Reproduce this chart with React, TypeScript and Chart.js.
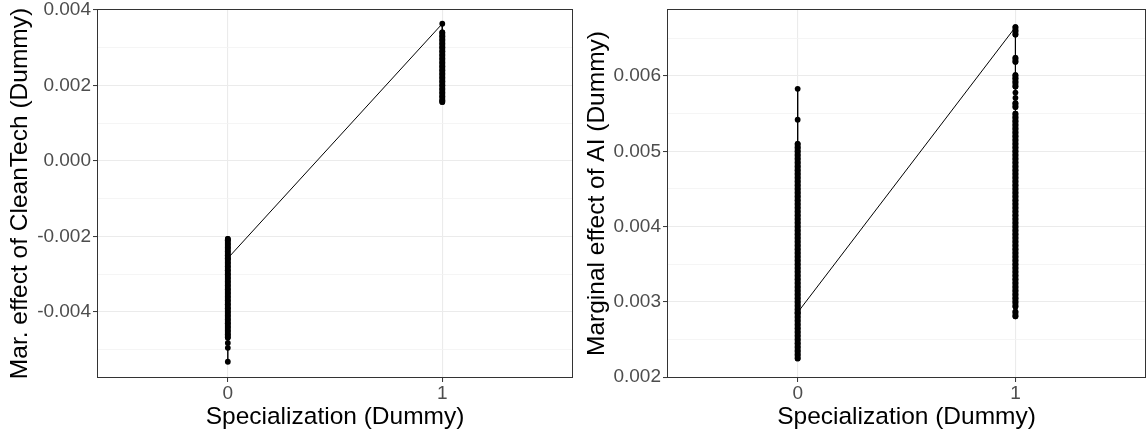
import React, { useEffect, useRef } from "react";
import { Chart, registerables } from "chart.js";
Chart.register(...registerables);

// ---- data ----
const xCategories = [0, 1];
const xTickLabels = ["0", "1"];
const xTitle = "Specialization (Dummy)";

// Left panel: marginal effect of CleanTech at Specialization = 0 / 1 (data order kept)
const cleanTechAt0 = [
  -0.00207, -0.0021, -0.0022, -0.0023, -0.0024, -0.0025, -0.0026, -0.0027, -0.0028, -0.0029,
  -0.003, -0.0031, -0.0032, -0.0033, -0.0034, -0.0035, -0.0036, -0.0037, -0.0038, -0.0039,
  -0.004, -0.0041, -0.0042, -0.0043, -0.0044, -0.0045, -0.0046, -0.00468, -0.00482, -0.00495,
  -0.00532, -0.00258,
];
const cleanTechAt1 = [
  0.00363, 0.0034, 0.0033, 0.0032, 0.0031, 0.003, 0.0029, 0.0028, 0.0027, 0.0026, 0.0025,
  0.0024, 0.0023, 0.0022, 0.0021, 0.002, 0.0019, 0.0018, 0.0017, 0.0016, 0.00156,
];
const cleanTechTitle = "Mar. effect of CleanTech (Dummy)";
const cleanTechMajorTicks = [-0.004, -0.002, 0, 0.002, 0.004];
const cleanTechTickLabels = ["-0.004", "-0.002", "0.000", "0.002", "0.004"];
const cleanTechMinorTicks = [-0.005, -0.003, -0.001, 0.001, 0.003];

// Right panel: marginal effect of AI at Specialization = 0 / 1 (data order kept)
const aiAt0 = [
  0.00583, 0.00542,
  0.0051, 0.00505, 0.005, 0.00495, 0.0049, 0.00485, 0.0048, 0.00475, 0.0047, 0.00465,
  0.0046, 0.00455, 0.0045, 0.00445, 0.0044, 0.00435, 0.0043, 0.00425, 0.0042, 0.00415,
  0.0041, 0.00405, 0.004, 0.00395, 0.0039, 0.00385, 0.0038, 0.00375, 0.0037, 0.00365,
  0.0036, 0.00355, 0.0035, 0.00345, 0.0034, 0.00335, 0.0033, 0.00325, 0.0032, 0.00315,
  0.0031, 0.00305, 0.003, 0.00295, 0.0029, 0.00285, 0.0028, 0.00275, 0.0027, 0.00265,
  0.0026, 0.00255, 0.0025, 0.00245, 0.0024, 0.00235, 0.0023, 0.00225,
  0.00286,
];
const aiAt1 = [
  0.00665, 0.0066, 0.00655, 0.00624, 0.00619, 0.00601, 0.00597, 0.00592, 0.00586, 0.00578,
  0.00571, 0.00564, 0.00559,
  0.0055, 0.00545, 0.0054, 0.00535, 0.0053, 0.00525, 0.0052, 0.00515, 0.0051, 0.00505,
  0.005, 0.00495, 0.0049, 0.00485, 0.0048, 0.00475, 0.0047, 0.00465, 0.0046, 0.00455,
  0.0045, 0.00445, 0.0044, 0.00435, 0.0043, 0.00425, 0.0042, 0.00415, 0.0041, 0.00405,
  0.004, 0.00395, 0.0039, 0.00385, 0.0038, 0.00375, 0.0037, 0.00365, 0.0036, 0.00355,
  0.0035, 0.00345, 0.0034, 0.00335, 0.0033, 0.00325, 0.0032, 0.00315, 0.0031, 0.00305,
  0.003, 0.00294, 0.00287, 0.00281,
];
const aiTitle = "Marginal effect of AI (Dummy)";
const aiMajorTicks = [0.002, 0.003, 0.004, 0.005, 0.006];
const aiTickLabels = ["0.002", "0.003", "0.004", "0.005", "0.006"];
const aiMinorTicks = [0.0025, 0.0035, 0.0045, 0.0055, 0.0065];

// ---- styling ----
const FONT = "'Liberation Sans', Arial, Helvetica, sans-serif";
const TICK_SIZE = 19;
const TITLE_SIZE = 24.5;
const POINT_R = 2.9;

const panelBorder = {
  id: "panelBorder",
  afterDraw(chart: any) {
    const { ctx, chartArea } = chart;
    const l = Math.round(chartArea.left) + 0.5;
    const t = Math.round(chartArea.top) + 0.5;
    const r = Math.round(chartArea.right) - 0.5;
    const b = Math.round(chartArea.bottom) - 0.5;
    ctx.save();
    ctx.strokeStyle = "#333333";
    ctx.lineWidth = 1;
    ctx.strokeRect(l, t, r - l, b - t);
    ctx.restore();
  },
};

type PanelProps = {
  width: number; height: number; yTitle: string; at0: number[]; at1: number[];
  yMin: number; yMax: number; xMin: number; xMax: number; major: number[];
  labels: string[]; minor: number[]; yAxisWidth: number; padRight: number; yTitlePad: number;
};

function Panel(p: PanelProps) {
  const ref = useRef<HTMLCanvasElement | null>(null);
  useEffect(() => {
    if (!ref.current) return;
    const isMinor = (v: number) => p.minor.some((m) => Math.abs(m - v) < 1e-9);
    const points = [
      ...p.at0.map((y) => ({ x: xCategories[0], y })),
      ...p.at1.map((y) => ({ x: xCategories[1], y })),
    ];
    // overlapping points (dense runs) merge into a solid column: trace them with a point-wide stroke
    const pxPerUnit = 369 / (p.yMax - p.yMin);
    const close = (a: any, b: any) =>
      a && b && a.x === b.x && Math.abs(a.y - b.y) * pxPerUnit < 4.6;
    const runs: any[] = [];
    let cur: any[] = [];
    points.forEach((pt, i) => {
      if (cur.length && close(points[i - 1], pt)) {
        cur.push(pt);
      } else {
        if (cur.length > 1) runs.push(...cur, { x: cur[0].x, y: null });
        cur = [pt];
      }
    });
    if (cur.length > 1) runs.push(...cur);

    const chart = new Chart(ref.current, {
      type: "scatter",
      data: {
        datasets: [
          {
            data: runs,
            showLine: true,
            spanGaps: false,
            borderColor: "#000000",
            borderWidth: POINT_R * 2,
            borderCapStyle: "round",
            pointRadius: 0,
            pointHoverRadius: 0,
          },
          {
            data: points,
            showLine: true,
            borderColor: "#000000",
            borderWidth: 1,
            pointRadius: POINT_R,
            pointBorderWidth: 0,
            pointBackgroundColor: "#000000",
            pointHoverRadius: POINT_R,
          },
        ],
      },
      options: {
        responsive: false,
        animation: false,
        layout: { padding: { top: 9, right: p.padRight, left: 0, bottom: 0 } },
        plugins: { legend: { display: false }, tooltip: { enabled: false } },
        scales: {
          x: {
            type: "linear", min: p.xMin, max: p.xMax,
            afterBuildTicks: (s: any) => { s.ticks = xCategories.map((v) => ({ value: v })); },
            afterFit: (s: any) => { s.height = 58; s.paddingLeft = 0; s.paddingRight = 0; },
            ticks: {
              autoSkip: false, maxRotation: 0, padding: 0, color: "#4D4D4D",
              font: { family: FONT, size: TICK_SIZE },
              callback: (v: any) => { const i = xCategories.indexOf(Number(v)); return i >= 0 ? xTickLabels[i] : ""; },
            },
            grid: { color: "#EBEBEB", lineWidth: 1.1, tickColor: "#333333", tickLength: 4, tickWidth: 1 },
            border: { display: false },
            title: { display: true, text: xTitle, color: "#000000", font: { family: FONT, size: TITLE_SIZE }, padding: { top: 0, bottom: 4 } },
          },
          y: {
            type: "linear", min: p.yMin, max: p.yMax,
            afterBuildTicks: (s: any) => {
              s.ticks = [...p.major, ...p.minor].sort((a, b) => a - b).map((v) => ({ value: v }));
            },
            afterFit: (s: any) => { s.width = p.yAxisWidth; s.paddingTop = 0; s.paddingBottom = 0; },
            ticks: {
              autoSkip: false, padding: 2, color: "#4D4D4D",
              font: { family: FONT, size: TICK_SIZE },
              callback: (v: any) => {
                const i = p.major.findIndex((m) => Math.abs(m - Number(v)) < 1e-9);
                return i >= 0 ? p.labels[i] : "";
              },
            },
            grid: {
              color: (c: any) => (c.tick && isMinor(c.tick.value) ? "#F3F3F3" : "#EBEBEB"),
              lineWidth: (c: any) => (c.tick && isMinor(c.tick.value) ? 0.8 : 1.1),
              tickColor: (c: any) => (c.tick && isMinor(c.tick.value) ? "rgba(0,0,0,0)" : "#333333"),
              tickLength: 4, tickWidth: 1,
            },
            border: { display: false },
            title: { display: true, text: p.yTitle, color: "#000000", font: { family: FONT, size: TITLE_SIZE }, padding: { top: p.yTitlePad, bottom: 0 } },
          },
        },
      },
      plugins: [panelBorder],
    } as any);
    return () => chart.destroy();
  }, []);
  return <canvas ref={ref} width={p.width} height={p.height} style={{ display: "block" }} />;
}

export default function App() {
  return (
    <div style={{ position: "absolute", left: 0, top: 0, width: 1147, height: 436, overflow: "hidden", background: "#ffffff" }}>
      <div style={{ position: "absolute", left: 0, top: 0 }}>
        <Panel width={576} height={436} yTitle={cleanTechTitle} at0={cleanTechAt0} at1={cleanTechAt1}
          yMin={-0.00575} yMax={0.00402} xMin={-0.61} xMax={1.61}
          major={cleanTechMajorTicks} labels={cleanTechTickLabels} minor={cleanTechMinorTicks}
          yAxisWidth={97} padRight={2} yTitlePad={6} />
      </div>
      <div style={{ position: "absolute", left: 576, top: 0 }}>
        <Panel width={573} height={436} yTitle={aiTitle} at0={aiAt0} at1={aiAt1}
          yMin={0.00199} yMax={0.00689} xMin={-0.6} xMax={1.6}
          major={aiMajorTicks} labels={aiTickLabels} minor={aiMinorTicks}
          yAxisWidth={91} padRight={0} yTitlePad={7} />
      </div>
    </div>
  );
}
